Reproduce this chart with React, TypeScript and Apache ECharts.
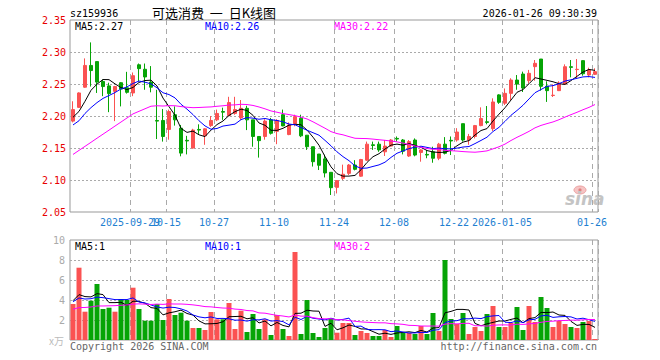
import React, { useEffect, useRef } from "react";
import * as echarts from "echarts";

const dates = [
  "2025-09-15","2025-09-16","2025-09-17","2025-09-18","2025-09-19","2025-09-22","2025-09-23","2025-09-24","2025-09-25","2025-09-26",
  "2025-09-29","2025-09-30","2025-10-09","2025-10-10","2025-10-13","2025-10-14","2025-10-15","2025-10-16","2025-10-17","2025-10-20",
  "2025-10-21","2025-10-22","2025-10-23","2025-10-24","2025-10-27","2025-10-28","2025-10-29","2025-10-30","2025-10-31","2025-11-03",
  "2025-11-04","2025-11-05","2025-11-06","2025-11-07","2025-11-10","2025-11-11","2025-11-12","2025-11-13","2025-11-14","2025-11-17",
  "2025-11-18","2025-11-19","2025-11-20","2025-11-21","2025-11-24","2025-11-25","2025-11-26","2025-11-27","2025-11-28","2025-12-01",
  "2025-12-02","2025-12-03","2025-12-04","2025-12-05","2025-12-08","2025-12-09","2025-12-10","2025-12-11","2025-12-12","2025-12-15",
  "2025-12-16","2025-12-17","2025-12-18","2025-12-19","2025-12-22","2025-12-23","2025-12-24","2025-12-25","2025-12-26","2025-12-29",
  "2025-12-30","2025-12-31","2026-01-05","2026-01-06","2026-01-07","2026-01-08","2026-01-09","2026-01-12","2026-01-13","2026-01-14",
  "2026-01-15","2026-01-16","2026-01-19","2026-01-20","2026-01-21","2026-01-22","2026-01-23","2026-01-26",
];

const opens = [
  2.192,2.2135,2.245,2.279,2.285,2.254,2.247,2.2385,2.252,2.244,
  2.236,2.28,2.273,2.253,2.193,2.193,2.179,2.202,2.181,2.162,
  2.15,2.179,2.169,2.185,2.194,2.207,2.2005,2.204,2.197,2.212,
  2.194,2.168,2.168,2.194,2.176,2.202,2.171,2.188,2.1965,2.17,
  2.152,2.1406,2.133,2.112,2.0885,2.1026,2.1104,2.1234,2.106,2.131,
  2.155,2.156,2.144,2.153,2.165,2.1625,2.1375,2.1625,2.143,2.14,
  2.144,2.134,2.156,2.162,2.1625,2.188,2.1625,2.168,2.185,2.191,
  2.1802,2.233,2.22,2.2354,2.2562,2.2656,2.2552,2.2771,2.289,2.2464,
  2.232,2.2396,2.25,2.277,2.2725,2.2865,2.2641,2.2651,
];
const closes = [
  2.21,2.236,2.279,2.271,2.253,2.246,2.235,2.246,2.242,2.237,
  2.263,2.274,2.261,2.245,2.192,2.168,2.207,2.194,2.142,2.161,
  2.178,2.178,2.18,2.193,2.204,2.206,2.221,2.21,2.212,2.194,
  2.168,2.1615,2.192,2.173,2.193,2.1845,2.186,2.199,2.169,2.152,
  2.1286,2.123,2.111,2.088,2.099,2.109,2.1234,2.1167,2.132,2.156,
  2.154,2.147,2.153,2.1625,2.164,2.145,2.16,2.139,2.147,2.139,
  2.134,2.156,2.1417,2.161,2.175,2.1625,2.168,2.185,2.196,2.19,
  2.2219,2.2214,2.2354,2.2562,2.25,2.2437,2.2667,2.2823,2.2464,2.2396,
  2.2325,2.2516,2.277,2.276,2.273,2.266,2.2719,2.2693,
];
const lows = [
  2.19,2.2125,2.244,2.246,2.236,2.231,2.206,2.192,2.215,2.235,
  2.231,2.254,2.241,2.237,2.164,2.16,2.163,2.185,2.137,2.14,
  2.149,2.172,2.155,2.183,2.192,2.194,2.2,2.202,2.194,2.178,
  2.152,2.135,2.163,2.171,2.156,2.184,2.17,2.184,2.167,2.147,
  2.121,2.1156,2.104,2.0766,2.079,2.1,2.1078,2.115,2.105,2.13,
  2.147,2.144,2.1375,2.152,2.16,2.14,2.136,2.137,2.1286,2.134,
  2.127,2.131,2.14,2.139,2.16,2.16,2.155,2.165,2.184,2.187,
  2.1766,2.219,2.2172,2.225,2.241,2.2375,2.251,2.2552,2.2396,2.222,
  2.2297,2.239,2.249,2.2604,2.2583,2.263,2.2604,2.264,
];
const highs = [
  2.223,2.237,2.29,2.315,2.285,2.257,2.252,2.247,2.253,2.269,
  2.268,2.282,2.282,2.278,2.241,2.211,2.21,2.215,2.186,2.169,
  2.18,2.187,2.181,2.2,2.21,2.213,2.23,2.23,2.225,2.216,
  2.194,2.168,2.195,2.197,2.195,2.21,2.19,2.202,2.202,2.17,
  2.152,2.1406,2.1395,2.112,2.1,2.124,2.125,2.131,2.133,2.16,
  2.16,2.16,2.1625,2.164,2.168,2.164,2.1625,2.165,2.148,2.147,
  2.152,2.158,2.167,2.168,2.181,2.188,2.172,2.186,2.2135,2.2156,
  2.2276,2.234,2.243,2.259,2.264,2.2693,2.272,2.2875,2.289,2.2542,
  2.2495,2.2542,2.2807,2.2875,2.289,2.287,2.2755,2.2745,
];
// volumes in 万
const volumes = [
  3.6,7.23,2.83,3.93,5.6,3.1,3.23,2.83,4.1,4.0,
  5.23,3.1,1.93,1.93,3.6,2.0,4.1,2.5,2.73,1.93,
  1.2,1.2,1.0,2.8,2.07,2.07,3.7,1.1,2.93,0.8,
  2.6,1.1,2.07,0.5,2.5,1.1,0.4,8.8,0.6,4.0,
  0.7,0.3,1.2,2.17,0.73,1.7,1.7,0.5,0.9,0.7,
  0.4,0.4,1.0,0.3,1.4,0.7,0.7,0.6,1.4,0.6,
  2.7,0.9,8.0,2.1,1.6,2.7,0.6,1.3,0.9,2.6,
  3.4,1.3,1.3,1.7,3.3,1.0,3.4,1.8,4.3,3.2,
  1.3,1.9,1.6,1.3,1.2,1.8,1.9,0.1,
];
// estimated history before the first visible day (for moving averages)
const preCloses = [
  2.046,2.089,2.081,2.063,2.056,2.045,2.056,2.052,2.047,2.073,
  2.154,2.141,2.125,2.17,2.18,2.19,2.2,2.18,2.19,2.2,
  2.17,2.165,2.18,2.175,2.18,2.19,2.2,2.185,2.205,
];
const preVolumes = [
  2.2,2.5,2.4,2.6,3.1,2.8,2.3,2.9,3.2,2.6,
  2.4,2.7,3.0,2.5,2.8,2.6,2.9,2.7,2.9,2.8,
  3.5,3.9,3.6,4.0,3.65,4.2,3.8,4.1,3.95,
];

const tickDates = ["2025-09-29","2025-10-15","2025-10-27","2025-11-10","2025-11-24","2025-12-08","2025-12-22","2026-01-05","2026-01-26"];
const tickLabels = ["2025-09-29","10-15","10-27","11-10","11-24","12-08","12-22","2026-01-05","01-26"];

const RED = "#fb5252";
const GREEN = "#06a406";
const MONO = '"DejaVu Sans Mono", "Liberation Mono", monospace';

function movingAvg(pre: number[], vals: number[], n: number): number[] {
  const all = pre.concat(vals);
  return vals.map((_, i) => {
    const end = pre.length + i;
    let s = 0;
    for (let k = end - n + 1; k <= end; k++) s += all[k];
    return +(s / n).toFixed(4);
  });
}

export default function App() {
  const ref = useRef<HTMLDivElement>(null);
  useEffect(() => {
    document.body.style.margin = "0";
    const chart = echarts.init(ref.current!, undefined, { renderer: "svg" });
    const tickIdx = new Set(tickDates.map((d) => dates.indexOf(d)));
    const labelOf: Record<string, string> = {};
    tickDates.forEach((d, i) => (labelOf[d] = tickLabels[i]));
    const shortIdx = new Set(tickDates.filter((d) => labelOf[d].length <= 5).map((d) => dates.indexOf(d)));
    const longIdx = new Set(tickDates.filter((d) => labelOf[d].length > 5).map((d) => dates.indexOf(d)));
    const kData = opens.map((o, i) => [o, closes[i], lows[i], highs[i]]);
    const volData = volumes.map((v, i) => ({
      value: v,
      itemStyle: { color: closes[i] >= opens[i] ? RED : GREEN },
    }));
    const ma = (arr: number[], color: string, xi: number) => ({
      type: "line",
      xAxisIndex: xi,
      yAxisIndex: xi,
      data: arr,
      symbol: "none",
      showSymbol: false,
      lineStyle: { color, width: 1 },
      itemStyle: { color },
      emphasis: { disabled: true },
      silent: true,
      z: 5,
    });
    const splitX = {
      show: true,
      interval: (i: number) => tickIdx.has(i),
      lineStyle: { color: "#aaa", type: [5, 4], width: 1 },
    };
    const labelBase = {
      formatter: (v: string) => labelOf[v] || "",
      color: "#1f7fd1",
      fontFamily: MONO,
      fontSize: 10,
      margin: 5,
      padding: [0, 6, 0, 0],
      hideOverlap: false,
    };
    const txt = (text: string, x: number, y: number, fill: string, align = "left", font = `10px ${MONO}`) => ({
      type: "text",
      x,
      y,
      silent: true,
      style: { text, fill, font, textAlign: align, textVerticalAlign: "middle", verticalAlign: "middle" },
    });
    chart.setOption({
      animation: false,
      backgroundColor: "#fff",
      grid: [
        { left: 70, top: 20, width: 528, height: 192, show: true, borderColor: "#999", borderWidth: 1, backgroundColor: "transparent" },
        { left: 70, top: 240, width: 528, height: 100, show: true, borderColor: "#999", borderWidth: 1, backgroundColor: "transparent" },
      ],
      xAxis: [
        {
          type: "category",
          gridIndex: 0,
          data: dates,
          boundaryGap: true,
          axisLine: { show: false },
          axisTick: { show: false },
          axisLabel: { ...labelBase, interval: (i: number) => shortIdx.has(i) },
          splitLine: splitX,
        },
        {
          type: "category",
          gridIndex: 1,
          data: dates,
          boundaryGap: true,
          axisLine: { show: false },
          axisTick: { show: false },
          axisLabel: { show: false },
          splitLine: splitX,
        },
        {
          type: "category",
          gridIndex: 0,
          position: "bottom",
          data: dates,
          boundaryGap: true,
          axisLine: { show: false },
          axisTick: { show: false },
          axisLabel: { ...labelBase, interval: (i: number) => longIdx.has(i) },
          splitLine: { show: false },
        },
      ],
      yAxis: [
        {
          type: "value",
          gridIndex: 0,
          min: 2.05,
          max: 2.35,
          interval: 0.05,
          axisLine: { show: false },
          axisTick: { show: false },
          axisLabel: { formatter: (v: number) => v.toFixed(2), color: "#e80000", fontFamily: MONO, fontSize: 10, margin: 4 },
          splitLine: { show: true, showMinLine: false, showMaxLine: false, lineStyle: { color: "#aaa", type: [2, 2], width: 1 } },
        },
        {
          type: "value",
          gridIndex: 1,
          min: 0,
          max: 10,
          interval: 2,
          axisLine: { show: false },
          axisTick: { show: false },
          axisLabel: { formatter: (v: number) => (v === 0 ? "" : String(v)), color: "#aaa", fontFamily: MONO, fontSize: 10, margin: 5 },
          splitLine: { show: true, showMinLine: false, showMaxLine: false, lineStyle: { color: "#aaa", type: [2, 2], width: 1 } },
        },
      ],
      series: [
        {
          type: "candlestick",
          xAxisIndex: 0,
          yAxisIndex: 0,
          data: kData,
          barWidth: 4,
          silent: true,
          itemStyle: { color: RED, color0: GREEN, borderColor: RED, borderColor0: GREEN, borderWidth: 1 },
        },
        ma(movingAvg(preCloses, closes, 5), "#000000", 0),
        ma(movingAvg(preCloses, closes, 10), "#0000ff", 0),
        ma(movingAvg(preCloses, closes, 30), "#ff00ff", 0),
        {
          type: "bar",
          xAxisIndex: 1,
          yAxisIndex: 1,
          data: volData,
          barWidth: 5,
          silent: true,
        },
        ma(movingAvg(preVolumes, volumes, 5), "#000000", 1),
        ma(movingAvg(preVolumes, volumes, 10), "#0000ff", 1),
        ma(movingAvg(preVolumes, volumes, 30), "#ff00ff", 1),
      ],
      graphic: [
        txt("sz159936", 70, 13, "#000"),
        txt("可选消费  一  日K线图", 214, 12, "#000", "center", '13px "Noto Sans CJK SC", sans-serif'),
        txt("2026-01-26 09:30:39", 597, 13, "#000", "right"),
        txt("MA5:2.27", 75, 26, "#000"),
        txt("MA10:2.26", 205, 26, "#0000ff"),
        txt("MA30:2.22", 334, 26, "#ff00ff"),
        txt("MA5:1", 75, 246.5, "#000"),
        txt("MA10:1", 205, 246.5, "#0000ff"),
        txt("MA30:2", 334, 246.5, "#ff00ff"),
        txt("x万", 49, 340, "#bbb", "left", '10px "Noto Sans CJK SC", sans-serif'),
        txt("Copyright 2026 SINA.COM", 70, 346, "#666"),
        txt("http://finance.sina.com.cn", 597, 346, "#666", "right"),
        { type: "ellipse", silent: true, shape: { cx: 580, cy: 190, rx: 6, ry: 4 }, style: { fill: "#f6c4c4", stroke: "#eaa0a0", lineWidth: 1 } },
        { type: "circle", silent: true, shape: { cx: 580, cy: 190, r: 1.6 }, style: { fill: "#e08080" } },
        txt("sina", 565, 199, "#c4c4c4", "left", 'italic bold 17px "DejaVu Sans", sans-serif'),
      ],
    });
    return () => chart.dispose();
  }, []);
  return <div ref={ref} style={{ position: "absolute", left: 0, top: 0, width: 660, height: 360, background: "#fff" }} />;
}
